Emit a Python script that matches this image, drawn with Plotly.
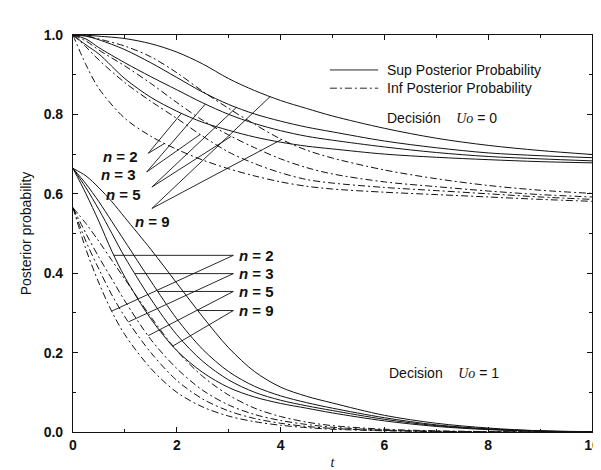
import numpy as np
import plotly.graph_objects as go

# ---------------- data ----------------
n_values = [2, 3, 5, 9]

# Decision Uo = 0 (upper family)
t_upper = [0, 0.25, 0.5, 1, 1.5, 2, 2.5, 3, 3.5, 4, 4.5, 5, 6, 7, 8, 9, 10]
sup_u0_n2 = [1.0, 0.975, 0.952, 0.890, 0.843, 0.808, 0.780, 0.760, 0.743, 0.730, 0.720, 0.713, 0.700, 0.692, 0.686, 0.681, 0.678]
sup_u0_n3 = [1.0, 0.990, 0.968, 0.930, 0.895, 0.862, 0.829, 0.800, 0.777, 0.759, 0.745, 0.735, 0.718, 0.704, 0.694, 0.688, 0.683]
sup_u0_n5 = [1.0, 0.997, 0.988, 0.963, 0.930, 0.893, 0.856, 0.825, 0.801, 0.783, 0.768, 0.756, 0.733, 0.716, 0.703, 0.696, 0.691]
sup_u0_n9 = [1.0, 0.9995, 0.997, 0.991, 0.978, 0.957, 0.927, 0.890, 0.860, 0.835, 0.815, 0.796, 0.765, 0.740, 0.722, 0.709, 0.699]
inf_u0_n2 = [1.0, 0.925, 0.865, 0.790, 0.745, 0.712, 0.685, 0.663, 0.645, 0.630, 0.619, 0.612, 0.604, 0.598, 0.592, 0.586, 0.581]
inf_u0_n3 = [1.0, 0.970, 0.937, 0.880, 0.833, 0.790, 0.745, 0.705, 0.676, 0.653, 0.636, 0.627, 0.616, 0.608, 0.600, 0.592, 0.586]
inf_u0_n5 = [1.0, 0.985, 0.962, 0.922, 0.878, 0.830, 0.785, 0.748, 0.716, 0.688, 0.666, 0.650, 0.630, 0.618, 0.607, 0.598, 0.592]
inf_u0_n9 = [1.0, 0.998, 0.990, 0.972, 0.945, 0.905, 0.858, 0.815, 0.775, 0.738, 0.710, 0.690, 0.660, 0.638, 0.621, 0.609, 0.601]

# Decision Uo = 1 (lower family)
t_lower = [0, 0.25, 0.5, 0.75, 1, 1.5, 2, 2.5, 3, 3.5, 4, 4.5, 5, 6, 7, 8, 9, 10]
sup_u1_n2 = [0.664, 0.600, 0.530, 0.455, 0.390, 0.285, 0.205, 0.150, 0.112, 0.088, 0.072, 0.060, 0.048, 0.028, 0.014, 0.006, 0.002, 0.0]
sup_u1_n3 = [0.664, 0.615, 0.560, 0.500, 0.440, 0.335, 0.245, 0.178, 0.131, 0.100, 0.080, 0.066, 0.054, 0.032, 0.016, 0.007, 0.002, 0.0]
sup_u1_n5 = [0.664, 0.625, 0.580, 0.530, 0.480, 0.380, 0.285, 0.208, 0.152, 0.115, 0.091, 0.074, 0.060, 0.036, 0.018, 0.008, 0.003, 0.0]
sup_u1_n9 = [0.664, 0.645, 0.615, 0.580, 0.540, 0.460, 0.375, 0.290, 0.212, 0.152, 0.113, 0.090, 0.073, 0.042, 0.022, 0.010, 0.003, 0.001]
inf_u1_n2 = [0.565, 0.460, 0.375, 0.303, 0.245, 0.160, 0.100, 0.063, 0.040, 0.026, 0.017, 0.011, 0.007, 0.003, 0.001, 0.0, 0.0, 0.0]
inf_u1_n3 = [0.565, 0.480, 0.410, 0.345, 0.290, 0.200, 0.130, 0.083, 0.053, 0.034, 0.022, 0.014, 0.009, 0.004, 0.0015, 0.0005, 0.0, 0.0]
inf_u1_n5 = [0.565, 0.500, 0.440, 0.385, 0.330, 0.233, 0.160, 0.105, 0.068, 0.044, 0.029, 0.019, 0.012, 0.005, 0.002, 0.0005, 0.0, 0.0]
inf_u1_n9 = [0.565, 0.525, 0.480, 0.432, 0.385, 0.290, 0.205, 0.140, 0.093, 0.060, 0.039, 0.025, 0.016, 0.007, 0.003, 0.001, 0.0, 0.0]

x_ticks = [0, 2, 4, 6, 8, 10]
y_ticks = [0.0, 0.2, 0.4, 0.6, 0.8, 1.0]

sup_u0 = {2: sup_u0_n2, 3: sup_u0_n3, 5: sup_u0_n5, 9: sup_u0_n9}
inf_u0 = {2: inf_u0_n2, 3: inf_u0_n3, 5: inf_u0_n5, 9: inf_u0_n9}
sup_u1 = {2: sup_u1_n2, 3: sup_u1_n3, 5: sup_u1_n5, 9: sup_u1_n9}
inf_u1 = {2: inf_u1_n2, 3: inf_u1_n3, 5: inf_u1_n5, 9: inf_u1_n9}

# ---------------- styling ----------------
SANS = "Liberation Sans, Arial, Helvetica, sans-serif"
SERIF = "Liberation Serif, Times New Roman, serif"
INK = "#111111"
DASHDOT = "7px,3px,2px,3px"
LW = 1.0

fig = go.Figure()

def add_curve(t, y, dash, name):
    fig.add_trace(go.Scatter(
        x=t, y=y, mode="lines", name=name, showlegend=False,
        line=dict(color=INK, width=LW, dash=dash, shape="spline", smoothing=0.9),
        hoverinfo="skip"))

for n in n_values:
    add_curve(t_upper, sup_u0[n], "solid", f"Sup, Uo=0, n={n}")
    add_curve(t_upper, inf_u0[n], DASHDOT, f"Inf, Uo=0, n={n}")
    add_curve(t_lower, sup_u1[n], "solid", f"Sup, Uo=1, n={n}")
    add_curve(t_lower, inf_u1[n], DASHDOT, f"Inf, Uo=1, n={n}")

shapes = []
annotations = []

def seg(x0, y0, x1, y1, dash="solid"):
    shapes.append(dict(type="line", xref="x", yref="y", x0=x0, y0=y0, x1=x1, y1=y1,
                       line=dict(color=INK, width=0.9, dash=dash)))

def label(x, y, text, anchor, size=15):
    annotations.append(dict(x=x, y=y, xref="x", yref="y", text=text, showarrow=False,
                            xanchor=anchor, yanchor="middle",
                            font=dict(family=SANS, size=size, color=INK)))

# ---- pointers for the upper family ----
up_tip = {2: (1.45, 0.702), 3: (1.42, 0.655), 5: (1.52, 0.617), 9: (1.52, 0.563)}
up_sup_t = {2: 2.09, 3: 2.55, 5: 3.15, 9: 3.80}
up_inf_t = {2: 1.77, 3: 2.45, 5: 3.05, 9: 4.02}
up_lab = {2: (1.29, 0.695), 3: (1.25, 0.649), 5: (1.35, 0.597), 9: (1.91, 0.531)}
for n in n_values:
    tx, ty = up_tip[n]
    ts = up_sup_t[n]
    ti = up_inf_t[n]
    seg(tx, ty, ts, float(np.interp(ts, t_upper, sup_u0[n])))
    seg(tx, ty, ti, float(np.interp(ti, t_upper, inf_u0[n])))
    lx, ly = up_lab[n]
    label(lx, ly, f"<b><i>n</i> = {n}</b>", "right")

# ---- pointers for the lower family ----
lo_tip_t = 3.09
lo_level = {2: 0.445, 3: 0.399, 5: 0.354, 9: 0.306}
lo_inf_t = {2: 0.745, 3: 1.07, 5: 1.45, 9: 1.93}
for n in n_values:
    v = lo_level[n]
    t_h = float(np.interp(v, sup_u1[n][::-1], t_lower[::-1]))
    seg(lo_tip_t, v, t_h, v)
    ti = lo_inf_t[n]
    seg(lo_tip_t, v, ti, float(np.interp(ti, t_lower, inf_u1[n])))
    label(3.16, v, f"<b><i>n</i> = {n}</b>", "left")

# ---- legend (drawn) ----
seg(4.95, 0.912, 5.88, 0.912)
seg(4.95, 0.866, 5.88, 0.866, DASHDOT)
label(6.01, 0.912, "Sup Posterior Probability", "left", 14)
label(6.01, 0.866, "Inf Posterior Probability", "left", 14)

# ---- decision captions ----
uo = f"<span style='font-family:{SERIF}'><i>Uo</i></span>"
label(6.01, 0.791, f"Decisión&nbsp;&nbsp;&nbsp;&nbsp;{uo} = 0", "left", 14)
label(6.05, 0.148, f"Decision&nbsp;&nbsp;&nbsp;&nbsp;{uo} = 1", "left", 14)

axis_common = dict(
    showline=True, linecolor=INK, linewidth=1.2, mirror="ticks",
    ticks="inside", ticklen=5, tickwidth=1, tickcolor=INK,
    showgrid=False, zeroline=False, automargin=False,
    ticklabeloverflow="allow",
    tickfont=dict(family=SANS, size=14, color=INK, weight="bold"),
)

# The page places the figure 8px from the top-left corner of the window,
# so the figure is 8px smaller than the 601x470 window.
fig.update_layout(
    width=593, height=462,
    margin=dict(l=65, r=9, t=27, b=38),
    plot_bgcolor="white", paper_bgcolor="white",
    showlegend=False,
    font=dict(family=SANS, size=14, color=INK),
    shapes=shapes, annotations=annotations,
    xaxis=dict(range=[0, 10], tickvals=x_ticks, ticktext=[str(v) for v in x_ticks],
               minor=dict(ticks="inside", ticklen=3, dtick=1, tickcolor=INK),
               title=dict(text="<i>t</i>", standoff=6,
                          font=dict(family=SERIF, size=14, color=INK)),
               **axis_common),
    yaxis=dict(range=[0, 1], tickvals=y_ticks, ticktext=[f"{v:.1f}" for v in y_ticks],
               minor=dict(ticks="inside", ticklen=3, dtick=0.1, tickcolor=INK),
               ticklabelstandoff=6,
               title=dict(text="Posterior probability", standoff=8,
                          font=dict(family=SANS, size=14, color=INK)),
               **axis_common),
)

fig.write_html("out.html")
